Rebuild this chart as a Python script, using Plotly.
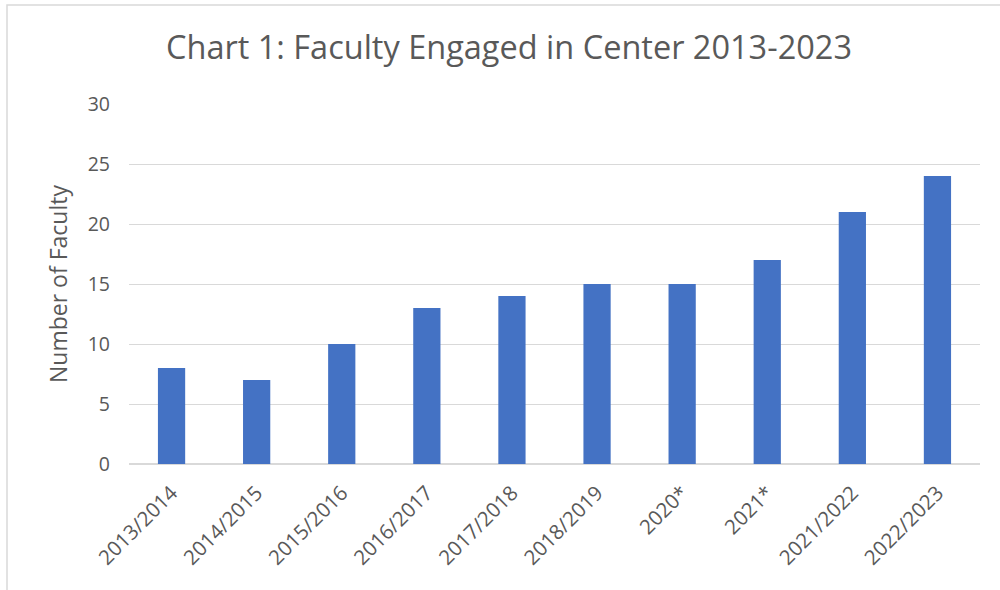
import plotly.graph_objects as go

categories = ["2013/2014", "2014/2015", "2015/2016", "2016/2017", "2017/2018",
              "2018/2019", "2020*", "2021*", "2021/2022", "2022/2023"]
faculty = [8, 7, 10, 13, 14, 15, 15, 17, 21, 24]
y_ticks = [0, 5, 10, 15, 20, 25, 30]

W, H = 1000, 590
L, R, T, B = 129, 20, 104, 126
pw, ph = W - L - R, H - T - B

def px(x):
    return (x - L) / pw

def py(y):
    return (H - B - y) / ph

fig = go.Figure(go.Bar(x=categories, y=faculty, marker=dict(color="#4472C4", line=dict(width=0))))

fig.update_layout(
    width=W, height=H,
    margin=dict(l=L, r=R, t=T, b=B),
    plot_bgcolor="white", paper_bgcolor="white",
    bargap=0.68,
    showlegend=False,
    font=dict(family="Open Sans, Calibri, sans-serif", color="#595959"),
    title=dict(text="Chart 1: Faculty Engaged in Center 2013-2023",
               x=0.509, xref="container", xanchor="center",
               y=1 - 48 / H, yref="container", yanchor="middle",
               font=dict(size=32.5, color="#595959")),
    xaxis=dict(tickangle=-45, tickfont=dict(size=20.5, color="#595959"),
               showgrid=False, showline=False, ticks="", ticklabelstandoff=12),
    yaxis=dict(range=[0, 30], tickvals=y_ticks, tickfont=dict(size=19.5, color="#595959"),
               showgrid=True, gridcolor="#D9D9D9", gridwidth=1,
               zeroline=True, zerolinecolor="#D9D9D9", zerolinewidth=1.5,
               showline=False, ticks="", ticklabelstandoff=18,
               title=dict(text="Number of Faculty", font=dict(size=23, color="#595959"), standoff=13)),
    shapes=[dict(type="rect", xref="paper", yref="paper",
                 x0=px(7), x1=px(1012), y0=py(600), y1=py(5),
                 line=dict(color="#D9D9D9", width=1.5), fillcolor="rgba(0,0,0,0)", layer="below")],
)

fig.write_html("out.html", config={"displayModeBar": False},
               post_script="document.body.style.margin='0px';")
